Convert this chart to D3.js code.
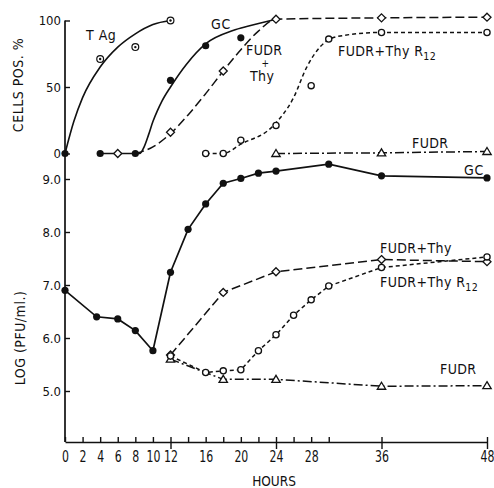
<!DOCTYPE html>
<html>
<head>
<meta charset="utf-8">
<script src="https://cdn.jsdelivr.net/npm/d3@7"></script>
<style>
  body { margin: 0; background: #fff; }
  svg text { font-family: "DejaVu Sans Condensed", "DejaVu Sans", sans-serif; fill: #111; }
</style>
</head>
<body>
<div id="chart"></div>
<script>
// ---- top panel: cells positive (%) ----
const tagPoints = [[4, 71], [8, 80], [12, 100]];
const tagCurve = [[0, 0], [1, 24], [2, 42], [4, 65], [6, 80], [8, 90], [10, 97], [12, 100]];

const gcTopPoints = [[0, 0], [4, 0], [8, 0], [12, 55], [16, 81], [20, 87]];
const gcTopCurve = [[4, 0], [8.5, 0], [9, 5], [9.5, 14], [10, 24], [10.5, 32], [11, 39], [12, 50], [13.8, 67], [16.1, 83], [19.1, 92.5], [21, 96], [24, 101]];

const fudrThyTopPoints = [[6, 0], [12, 16], [18, 62], [24, 101], [36, 102], [48, 102.5]];
const fudrThyTopCurve = [[8, 0], [10, 5], [12, 15], [14, 29], [16, 45], [18, 62], [20, 78], [22, 92], [24, 101], [36, 102], [48, 102.5]];

const r12TopPoints = [[16, 0], [18, 0], [20, 10], [24, 21], [28, 51], [30, 86], [36, 91], [48, 91]];
const r12TopCurve = [[16, 0], [18, 0], [20, 7], [23.7, 21], [26, 42], [27.5, 65], [29, 80], [31, 88], [36, 91], [48, 91]];

const fudrTopPoints = [[24, 0], [36, 0.5], [48, 1.5]];

// ---- bottom panel: log PFU/ml ----
const gcHours = [0, 3.6, 6, 8, 10, 12, 14, 16, 18, 20, 22, 24, 30, 36, 48];
const gcLog = [6.9, 6.4, 6.36, 6.14, 5.76, 7.24, 8.05, 8.53, 8.92, 9.01, 9.11, 9.15, 9.28, 9.06, 9.02];

const fudrThyHours = [12, 18, 24, 36, 48];
const fudrThyLog = [5.68, 6.86, 7.25, 7.48, 7.44];

const r12Hours = [12, 16, 18, 20, 22, 24, 26, 28, 30, 36, 48];
const r12Log = [5.66, 5.35, 5.38, 5.4, 5.76, 6.06, 6.43, 6.72, 6.98, 7.33, 7.53];

const fudrHours = [12, 18, 24, 36, 48];
const fudrLog = [5.6, 5.22, 5.22, 5.09, 5.1];

// ---- axes ----
const hourTicks = [0, 2, 4, 6, 8, 10, 12, 14, 16, 18, 20, 22, 24, 26, 28, 30, 36, 48];
const hourLabels = [0, 2, 4, 6, 8, 10, 12, 16, 20, 24, 28, 36, 48];
const hourMajor = [12, 24, 36, 48];
const pctTicks = [0, 50, 100];
const logTicks = [5, 6, 7, 8, 9];

const W = 494, H = 488;
const svg = d3.select("#chart").append("svg")
    .attr("width", W)
    .attr("height", H);

const x = d3.scaleLinear().domain([0, 48]).range([65, 487]);
const yTop = d3.scaleLinear().domain([0, 100]).range([153.5, 20.5]);
const yBot = d3.scaleLinear().domain([5, 9]).range([391, 179]);
const axisY = 442;

// vertical axis line spanning both panels
svg.append("line")
    .attr("x1", x(0)).attr("x2", x(0))
    .attr("y1", yTop(100)).attr("y2", axisY)
    .attr("stroke", "#111").attr("stroke-width", 1.7);

const leftTop = svg.append("g")
    .attr("transform", `translate(${x(0)},0)`)
    .call(d3.axisLeft(yTop).tickValues(pctTicks).tickSizeInner(-5).tickSizeOuter(0).tickPadding(4));
const leftBot = svg.append("g")
    .attr("transform", `translate(${x(0)},0)`)
    .call(d3.axisLeft(yBot).tickValues(logTicks).tickSizeInner(-5).tickSizeOuter(0).tickPadding(4)
        .tickFormat(d3.format(".1f")));
[leftTop, leftBot].forEach(g => {
    g.select(".domain").remove();
    g.selectAll(".tick line").attr("stroke", "#111").attr("stroke-width", 1.4);
    g.selectAll("text").style("font-size", "13px").attr("fill", "#111");
});

const bottom = svg.append("g")
    .attr("transform", `translate(0,${axisY})`)
    .call(d3.axisBottom(x).tickValues(hourTicks).tickSizeInner(-5).tickSizeOuter(0).tickPadding(9)
        .tickFormat(d => hourLabels.includes(d) ? d : ""));
bottom.select(".domain").attr("stroke", "#111").attr("stroke-width", 1.7);
bottom.selectAll(".tick line").attr("stroke", "#111").attr("stroke-width", 1.4);
bottom.selectAll(".tick")
    .filter(d => hourMajor.includes(d))
    .append("line")
    .attr("y1", 0).attr("y2", 7)
    .attr("stroke", "#111").attr("stroke-width", 1.4);
// narrow, tall digits as in the original lettering
bottom.selectAll("text")
    .style("font-size", "16px")
    .attr("transform", "scale(0.76,1)")
    .attr("fill", "#111");

// axis titles
svg.append("text")
    .attr("transform", "translate(23,85) rotate(-90)")
    .attr("text-anchor", "middle")
    .style("font-size", "14px")
    .style("letter-spacing", "0.5px")
    .text("CELLS POS. %");
svg.append("text")
    .attr("transform", "translate(25,338) rotate(-90)")
    .attr("text-anchor", "middle")
    .style("font-size", "14px")
    .style("letter-spacing", "0.5px")
    .text("LOG (PFU/ml.)");
svg.append("text")
    .attr("x", 274).attr("y", 486)
    .attr("text-anchor", "middle")
    .style("font-size", "13.5px")
    .text("HOURS");

// ---- lines ----
const lineTop = d3.line().x(d => x(d[0])).y(d => yTop(d[1])).curve(d3.curveMonotoneX);
const lineBot = d3.line().x(d => x(d[0])).y(d => yBot(d[1]));

const LONG = "9,4", SHORT = "4,3", DASHDOT = "9,3,2,3";

function path(data, gen, dash, width) {
    svg.append("path")
        .datum(data)
        .attr("d", gen)
        .attr("fill", "none")
        .attr("stroke", "#111")
        .attr("stroke-width", width || 1.5)
        .attr("stroke-dasharray", dash || null);
}

path(tagCurve, lineTop, null, 1.6);
path(gcTopCurve, lineTop, null, 1.6);
path(fudrThyTopCurve, lineTop, LONG);
path(r12TopCurve, lineTop, SHORT);
path(fudrTopPoints, d3.line().x(d => x(d[0])).y(d => yTop(d[1])), DASHDOT);

const zip = (a, b) => a.map((v, i) => [v, b[i]]);
const gcBot = zip(gcHours, gcLog);
const fudrThyBot = zip(fudrThyHours, fudrThyLog);
const r12Bot = zip(r12Hours, r12Log);
const fudrBot = zip(fudrHours, fudrLog);

path(fudrBot, lineBot, DASHDOT);
path(r12Bot, lineBot, SHORT);
path(fudrThyBot, lineBot, LONG);
path(gcBot, lineBot, null, 1.7);

// ---- markers ----
function marker(data, yScale, kind) {
    const g = svg.append("g");
    data.forEach(d => {
        const cx = x(d[0]), cy = yScale(d[1]);
        if (kind === "dot") {
            g.append("circle").attr("cx", cx).attr("cy", cy).attr("r", 3.6).attr("fill", "#111");
        } else if (kind === "circle") {
            g.append("circle").attr("cx", cx).attr("cy", cy).attr("r", 3.1)
                .attr("fill", "#fff").attr("stroke", "#111").attr("stroke-width", 1.3);
        } else if (kind === "target") {
            g.append("circle").attr("cx", cx).attr("cy", cy).attr("r", 3.4)
                .attr("fill", "#fff").attr("stroke", "#111").attr("stroke-width", 1.2);
            g.append("circle").attr("cx", cx).attr("cy", cy).attr("r", 1.2).attr("fill", "#111");
        } else if (kind === "diamond") {
            g.append("path")
                .attr("d", `M${cx},${cy - 4}L${cx + 4},${cy}L${cx},${cy + 4}L${cx - 4},${cy}Z`)
                .attr("fill", "#fff").attr("stroke", "#111").attr("stroke-width", 1.3);
        } else if (kind === "triangle") {
            g.append("path")
                .attr("d", `M${cx},${cy - 4}L${cx + 4.2},${cy + 3}L${cx - 4.2},${cy + 3}Z`)
                .attr("fill", "#fff").attr("stroke", "#111").attr("stroke-width", 1.3);
        }
    });
}

marker(fudrTopPoints, yTop, "triangle");
marker(r12TopPoints, yTop, "circle");
marker(fudrThyTopPoints, yTop, "diamond");
marker(gcTopPoints, yTop, "dot");
marker(tagPoints, yTop, "target");

marker(fudrBot, yBot, "triangle");
marker(fudrThyBot, yBot, "diamond");
marker(r12Bot, yBot, "circle");
marker(gcBot, yBot, "dot");

// ---- series labels ----
function label(tx, ty, str, size, spacing, sub) {
    const t = svg.append("text")
        .attr("x", tx).attr("y", ty)
        .style("font-size", (size || 14) + "px")
        .style("letter-spacing", (spacing == null ? 0.4 : spacing) + "px")
        .text(str);
    if (sub) {
        t.append("tspan").attr("dy", 4).style("font-size", "10.5px").style("letter-spacing", "0.3px").text(sub);
    }
    return t;
}

label(86, 40, "T Ag", 14, 0.5);
label(211, 29, "GC", 14, 0.8);
label(246, 55, "FUDR", 14);
label(261.5, 67, "+", 10, 0);
label(250, 81, "Thy", 14);
label(338, 56, "FUDR+Thy R", 14, 0.4, "12");
label(412, 147.5, "FUDR", 14);

label(464, 175, "GC", 14, 0.8);
label(380, 252.5, "FUDR+Thy", 14);
label(380, 286.5, "FUDR+Thy R", 14, 0.4, "12");
label(440, 374, "FUDR", 14);
</script>
</body>
</html>
